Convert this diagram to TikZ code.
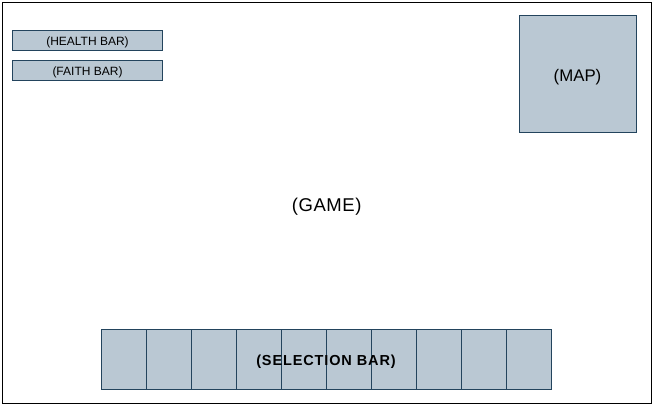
\documentclass[tikz,border=0pt]{standalone}
\usepackage{fontspec}
\setmainfont{Liberation Sans}
\definecolor{panelfill}{HTML}{BAC8D3}
\definecolor{paneldraw}{HTML}{23445D}
\tikzset{
  panel/.style={draw=paneldraw, fill=panelfill, line width=0.8pt, inner sep=0pt, text depth=0pt},
  cell/.style={panel, minimum width=45pt, minimum height=60pt},
}
\begin{document}
\begin{tikzpicture}[x=1pt,y=-1pt]
    \useasboundingbox (0,0) rectangle (655,407);
    \node (game) [draw=black, line width=0.8pt, inner sep=0pt, minimum width=649pt, minimum height=400.5pt,
      text height=17.8pt, text depth=0pt]
      at (326.7,203) {\fontsize{18.5}{21}\selectfont\addfontfeature{LetterSpace=3}(GAME)};
    \node (health) [panel, minimum width=150.4pt, minimum height=19.6pt, text height=10.6pt]
      at (87.5,40.5) {\fontsize{12}{14}\selectfont (HEALTH BAR)};
    \node (faith) [panel, minimum width=150.4pt, minimum height=20pt, text height=10.6pt]
      at (87.5,70.3) {\fontsize{12}{14}\selectfont (FAITH BAR)};
    \node (map) [panel, minimum width=117pt, minimum height=116.6pt, text height=14.6pt]
      at (577.5,74) {\fontsize{16.8}{19}\selectfont (MAP)};
    \node (s1) [cell] at (123.5,359.3) {};
    \node (s2) [cell] at (168.5,359.3) {};
    \node (s3) [cell] at (213.5,359.3) {};
    \node (s4) [cell] at (258.5,359.3) {};
    \node (s5) [cell] at (303.5,359.3) {};
    \node (s6) [cell] at (348.5,359.3) {};
    \node (s7) [cell] at (393.5,359.3) {};
    \node (s8) [cell] at (438.5,359.3) {};
    \node (s9) [cell] at (483.5,359.3) {};
    \node (s10) [cell] at (528.5,359.3) {};
    \node (selection) [inner sep=0pt, text height=12.6pt, text depth=0pt]
      at (326,359.3) {\fontsize{14.5}{17}\selectfont\bfseries\addfontfeature{LetterSpace=6}(SELECTION BAR)};
  \end{tikzpicture}
\end{document}
